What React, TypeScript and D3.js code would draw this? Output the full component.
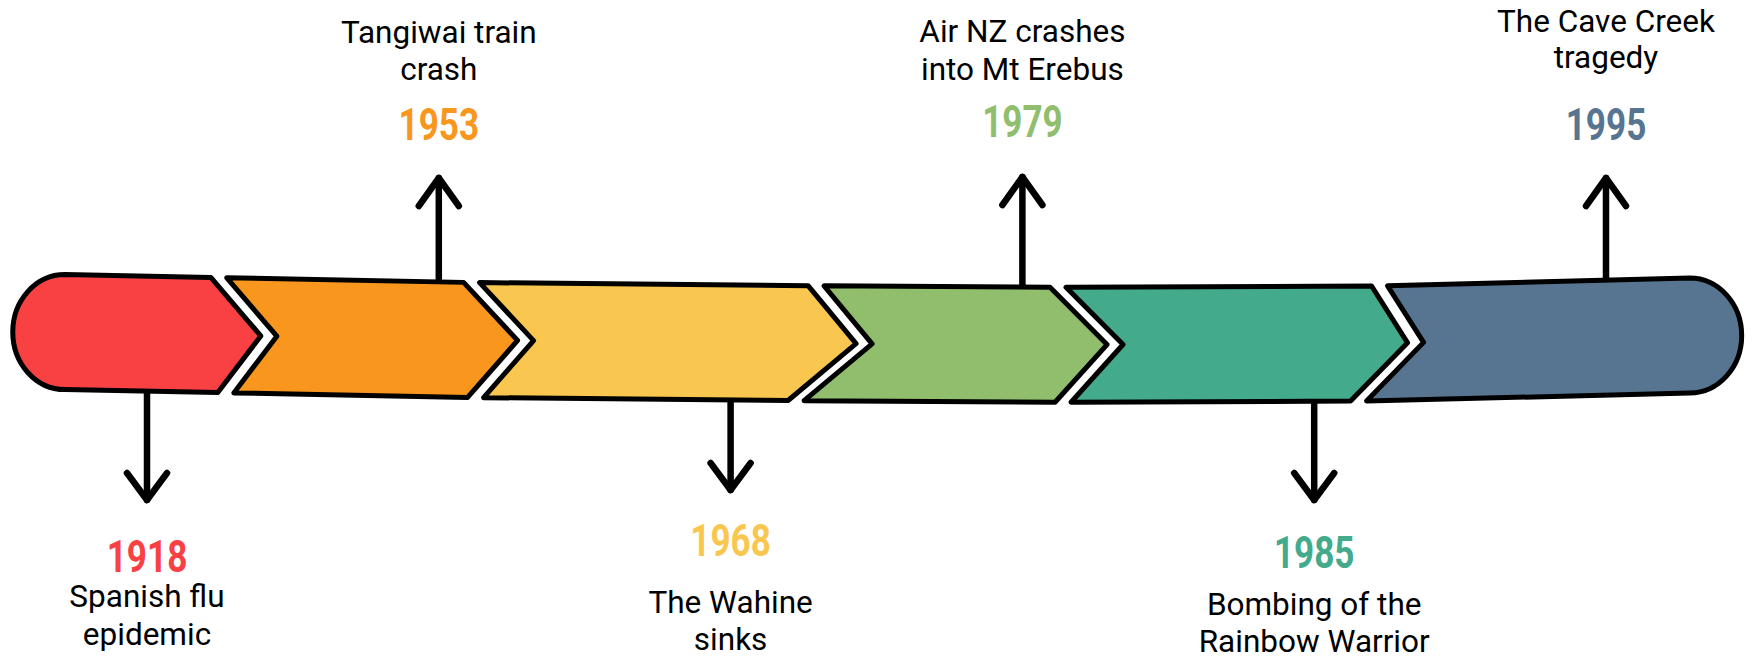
import * as d3 from "d3";

const years = ["1918", "1953", "1968", "1979", "1985", "1995"];
const titles = [
  ["Spanish flu", "epidemic"],
  ["Tangiwai train", "crash"],
  ["The Wahine", "sinks"],
  ["Air NZ crashes", "into Mt Erebus"],
  ["Bombing of the", "Rainbow Warrior"],
  ["The Cave Creek", "tragedy"],
];
const colors = ["#F94144", "#F8961E", "#F9C74F", "#90BE6D", "#43AA8B", "#577590"];
const sides = ["down", "up", "down", "up", "down", "up"];

// hand-drawn layout tweaks (not data)
const breakAt = [0.39, 0.27, 0.43, 0.29, 0.32]; // chevron tip position between two events
const tipDepthTop = [50, 54, 48, 57, 36];
const tipDepthBottom = [43, 50, 68, 52, 57];
const arrowEnd = [500, 178, 490, 177, 500, 178];
const yearBase = [572, 140, 556, 137, 568, 140];
const titleBase = [
  [607, 645],
  [43, 80],
  [613, 650],
  [42, 80],
  [615, 652],
  [32, 68],
];

const width = 1753;
const height = 660;
const K = 0.5523;

export default function App() {
  const x = d3.scalePoint<string>().domain(years).range([147, 1606]);
  const step = x.step();
  // the band wobbles a little, like it was drawn by hand
  const center = d3
    .scaleLinear()
    .domain([60, 470, 1000, 1380, 1690])
    .range([332, 340, 345, 343.5, 335.5])
    .clamp(true);
  const half = 57.5;
  const gap = 16;
  const rx = 52;
  const topY = (v: number) => center(v) - half;
  const botY = (v: number) => center(v) + half;

  const n = years.length;
  const tips = breakAt.map((t, i) => (x(years[i]) as number) + t * step);
  const leftEnd = (x(years[0]) as number) - 0.46 * step;
  const rightEnd = (x(years[n - 1]) as number) + 0.465 * step;

  const segPath = (i: number) => {
    const p = d3.path();
    const xs = leftEnd + rx;
    let notch = 0;
    if (i === 0) {
      p.moveTo(xs, topY(xs));
    } else {
      notch = tips[i - 1] + gap;
      const tl = notch - tipDepthTop[i - 1];
      p.moveTo(tl, topY(tl));
    }
    if (i < n - 1) {
      const tr = tips[i] - tipDepthTop[i];
      p.lineTo(tr, topY(tr));
      p.lineTo(tips[i], center(tips[i]));
      const br = tips[i] - tipDepthBottom[i];
      p.lineTo(br, botY(br));
    } else {
      const xe = rightEnd - rx;
      const t = topY(xe);
      const b = botY(xe);
      const cy = center(rightEnd);
      p.lineTo(xe, t);
      p.bezierCurveTo(xe + K * rx, t, rightEnd, cy - K * (cy - t), rightEnd, cy);
      p.bezierCurveTo(rightEnd, cy + K * (b - cy), xe + K * rx, b, xe, b);
    }
    if (i === 0) {
      const t = topY(xs);
      const b = botY(xs);
      const cy = center(leftEnd);
      p.lineTo(xs, b);
      p.bezierCurveTo(xs - K * rx, b, leftEnd, cy + K * (b - cy), leftEnd, cy);
      p.bezierCurveTo(leftEnd, cy - K * (cy - t), xs - K * rx, t, xs, t);
    } else {
      const bl = notch - tipDepthBottom[i - 1];
      p.lineTo(bl, botY(bl));
      p.lineTo(notch, center(notch));
    }
    p.closePath();
    return p.toString();
  };

  return (
    <svg
      width={width}
      height={height}
      style={{ position: "absolute", left: 0, top: 0, display: "block", background: "#fff" }}
    >
      {/* arrows go first so the band covers their roots */}
      {years.map((yr, i) => {
        const ax = x(yr) as number;
        const end = arrowEnd[i];
        const down = sides[i] === "down";
        const y0 = down ? botY(ax) - 3 : topY(ax) + 3;
        const wing = down ? -27 : 28;
        return (
          <g key={"a" + yr} stroke="#000" strokeWidth={6.5} strokeLinecap="round" strokeLinejoin="round" fill="none">
            <line x1={ax} y1={y0} x2={ax} y2={end} />
            <path d={`M${ax - 20},${end + wing}L${ax},${end}L${ax + 20},${end + wing}`} />
          </g>
        );
      })}

      {years.map((yr, i) => (
        <path
          key={"s" + yr}
          d={segPath(i)}
          fill={colors[i]}
          stroke="#000"
          strokeWidth={5}
          strokeLinejoin="round"
        />
      ))}

      {years.map((yr, i) => {
        const ax = x(yr) as number;
        return (
          <g key={"t" + yr} fontFamily="Roboto, sans-serif" textAnchor="middle">
            <text
              transform={`translate(${ax},${yearBase[i]}) scale(0.78,1)`}
              fontSize={45}
              fontWeight={700}
              fill={colors[i]}
            >
              {yr}
            </text>
            {titles[i].map((line, j) => (
              <text key={j} x={ax} y={titleBase[i][j]} fontSize={31.5} fill="#000">
                {line}
              </text>
            ))}
          </g>
        );
      })}
    </svg>
  );
}
